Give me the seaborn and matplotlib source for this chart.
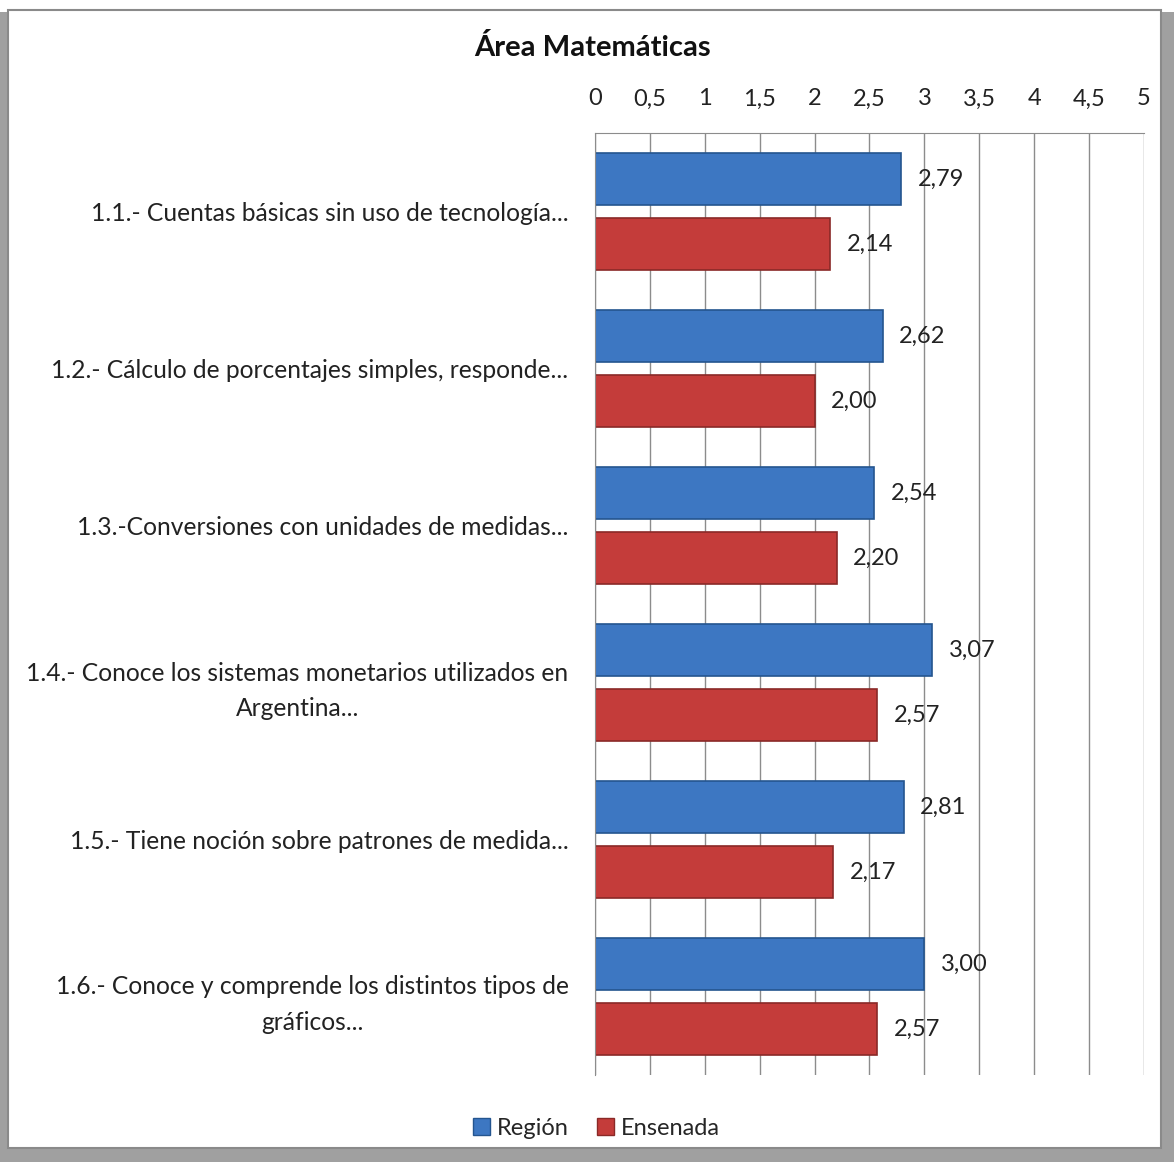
import matplotlib.pyplot as plt
import matplotlib.patches as mpatches
import pandas as pd
import seaborn as sns

categorias = [
    "1.1.- Cuentas básicas sin uso de tecnología...",
    "1.2.- Cálculo de porcentajes simples, responde...",
    "1.3.-Conversiones con unidades de medidas...",
    "1.4.- Conoce los sistemas monetarios utilizados en\nArgentina...",
    "1.5.- Tiene noción sobre patrones de medida...",
    "1.6.- Conoce y comprende los distintos tipos de\ngráficos...",
]
region = [2.79, 2.62, 2.54, 3.07, 2.81, 3.00]
ensenada = [2.14, 2.00, 2.20, 2.57, 2.17, 2.57]
series = ["Región", "Ensenada"]
colores = ["#3D77C2", "#C43C3A"]
bordes = ["#24558F", "#8A2927"]
ticks = [0, 0.5, 1, 1.5, 2, 2.5, 3, 3.5, 4, 4.5, 5]

df = pd.DataFrame({
    "cat": categorias * 2,
    "valor": region + ensenada,
    "serie": [series[0]] * len(categorias) + [series[1]] * len(categorias),
})

sns.set_style("white")
plt.rcParams["font.family"] = ["Lato", "DejaVu Sans"]

fig = plt.figure(figsize=(11.74, 11.62), dpi=100)
ax = fig.add_axes([0.5068, 0.0749, 0.4676, 0.8106])

sns.barplot(data=df, x="valor", y="cat", hue="serie", orient="h",
            palette=colores, saturation=1, width=0.828, gap=0.2, ax=ax, legend=False)

for cont, borde in zip(ax.containers, bordes):
    for p in cont:
        p.set_edgecolor(borde)
        p.set_linewidth(1.2)
    ax.bar_label(cont, labels=[f"{v:.2f}".replace(".", ",") for v in cont.datavalues],
                 padding=12, fontsize=17, color="#222222")

ax.set_xlim(0, 5)
ax.set_ylim(5.5, -0.5)
ax.set_xticks(ticks)
ax.set_xticklabels([f"{t:g}".replace(".", ",") for t in ticks])
ax.xaxis.tick_top()
ax.tick_params(axis="x", length=0, pad=17, labelsize=17, colors="#222222")
ax.tick_params(axis="y", length=0, pad=19, labelsize=17.7, colors="#222222")
for lbl in ax.get_yticklabels():
    lbl.set_multialignment("center")
    lbl.set_linespacing(1.65)
ax.set_xlabel("")
ax.set_ylabel("")
ax.grid(axis="x", color="#8c8c8c", linewidth=1)
ax.set_axisbelow(True)
for s in ["right", "bottom"]:
    ax.spines[s].set_visible(False)
ax.spines["top"].set_color("#8c8c8c")
ax.spines["left"].set_color("#8c8c8c")

fig.text(0.505, 0.959, "Área Matemáticas", ha="center", va="center",
         fontsize=21, fontweight="bold", color="#111111")

handles = [mpatches.Patch(facecolor=c, edgecolor=b, label=s)
           for s, c, b in zip(series, colores, bordes)]
fig.legend(handles=handles, loc="center", bbox_to_anchor=(0.508, 0.029), ncol=2,
           frameon=False, fontsize=17, handlelength=0.7, handleheight=0.7,
           handletextpad=0.3, columnspacing=1.2)

# marco con sombra
fig.patches.append(mpatches.Rectangle((0.0, 0.0), 1.0, 0.99, transform=fig.transFigure,
                                      facecolor="#a0a0a0", edgecolor="none", zorder=-2))
fig.patches.append(mpatches.Rectangle((0.007, 0.012), 0.982, 0.979, transform=fig.transFigure,
                                      facecolor="white", edgecolor="#8a8a8a", linewidth=1.5,
                                      zorder=-1))

fig.savefig("out.png", dpi=100)
